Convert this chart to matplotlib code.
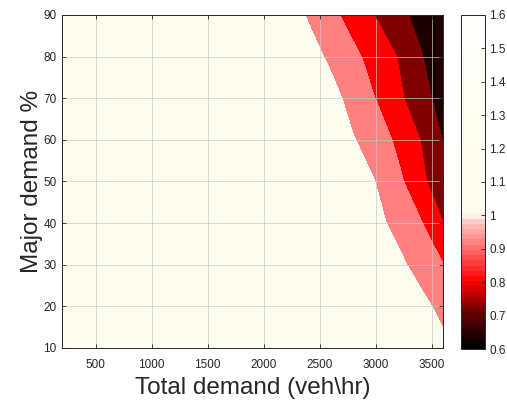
"""Contour map of the demand ratio over total demand and major-road share."""

import matplotlib
matplotlib.use("Agg")
import matplotlib.pyplot as plt
import numpy as np
from matplotlib.colors import LinearSegmentedColormap, Normalize
from matplotlib.colorbar import ColorbarBase

plt.rcParams["font.family"] = ["Liberation Sans", "DejaVu Sans"]

# grid
TOTAL_DEMAND = [200, 2200, 2400, 2600, 2800, 3000, 3200, 3400, 3600]
MAJOR_PCT = [10, 20, 30, 40, 50, 60, 70, 80, 90]
RATIO = [
    # 200   2200   2400   2600   2800   3000   3200   3400   3600
    [1.40, 1.26, 1.24, 1.22, 1.20, 1.17, 1.12, 1.08, 1.028],  # 10
    [1.38, 1.25, 1.23, 1.21, 1.17, 1.12, 1.08, 1.03, 0.970],  # 20
    [1.36, 1.24, 1.20, 1.17, 1.12, 1.08, 1.024, 0.962, 0.903],  # 30
    [1.35, 1.23, 1.20, 1.15, 1.09, 1.028, 0.968, 0.908, 0.802],  # 40
    [1.34, 1.22, 1.20, 1.15, 1.073, 0.998, 0.923, 0.828, 0.725],  # 50
    [1.33, 1.189, 1.128, 1.067, 1.005, 0.958, 0.877, 0.798, 0.697],  # 60
    [1.32, 1.168, 1.100, 1.033, 0.966, 0.898, 0.821, 0.740, 0.660],  # 70
    [1.31, 1.097, 1.039, 0.981, 0.922, 0.860, 0.795, 0.709, 0.622],  # 80
    [1.30, 1.055, 0.990, 0.925, 0.861, 0.796, 0.730, 0.664, 0.610],  # 90
]
LEVELS = [0.6, 0.7, 0.8, 0.9, 1.0, 1.6]
BAND_COLORS = ["#1c0000", "#800000", "#ff0000", "#ff8080", "#fdfdef"]
CBAR_TICKS = [0.6, 0.7, 0.8, 0.9, 1.0, 1.1, 1.2, 1.3, 1.4, 1.5, 1.6]
CBAR_LABELS = ["0.6", "0.7", "0.8", "0.9", "1", "1.1", "1.2", "1.3", "1.4", "1.5", "1.6"]

TXT = "#262626"

fig = plt.figure(figsize=(5.07, 4.03), dpi=100)
ax = fig.add_axes([62 / 507, 1 - 348 / 403, 381 / 507, 333 / 403])

X, Y = np.meshgrid(TOTAL_DEMAND, MAJOR_PCT)
ax.contourf(X, Y, np.array(RATIO), levels=LEVELS, colors=BAND_COLORS)

ax.set_xlim(200, 3600)
ax.set_ylim(10, 90)
ax.set_xticks(range(500, 3501, 500))
ax.set_yticks(range(10, 91, 10))
ax.grid(True, color="#c8c8c8", linewidth=0.6, alpha=0.8)
ax.tick_params(direction="in", length=3, width=0.6, top=True, right=True,
               labelsize=8.5, colors=TXT, pad=4)
ax.tick_params(axis="x", pad=8)
for s in ax.spines.values():
    s.set_color(TXT)
    s.set_linewidth(0.7)
ax.set_xlabel("Total demand (veh\\hr)", fontsize=17.5, color=TXT, labelpad=4)
ax.set_ylabel("Major demand %", fontsize=17.5, color=TXT, labelpad=0)

# colorbar: continuous map, black -> red -> pink below 1, cream -> white above
cmap = LinearSegmentedColormap.from_list(
    "ratio",
    [(0.0, "#000000"), (0.1, "#600000"), (0.2, "#ff0000"),
     (0.39, "#ffd4d4"), (0.4, "#fdfdee"), (0.75, "#fefef2"), (1.0, "#ffffff")],
    N=64,
)
cax = fig.add_axes([461 / 507, 1 - 349 / 403, 24 / 507, 334 / 403])
cb = ColorbarBase(cax, cmap=cmap, norm=Normalize(0.6, 1.6), ticks=CBAR_TICKS)
cb.ax.set_yticklabels(CBAR_LABELS)
cb.ax.tick_params(direction="in", length=3, width=0.6, labelsize=8.5, colors=TXT, pad=3)
cb.outline.set_edgecolor(TXT)
cb.outline.set_linewidth(0.7)

fig.savefig("out.png", dpi=100)
